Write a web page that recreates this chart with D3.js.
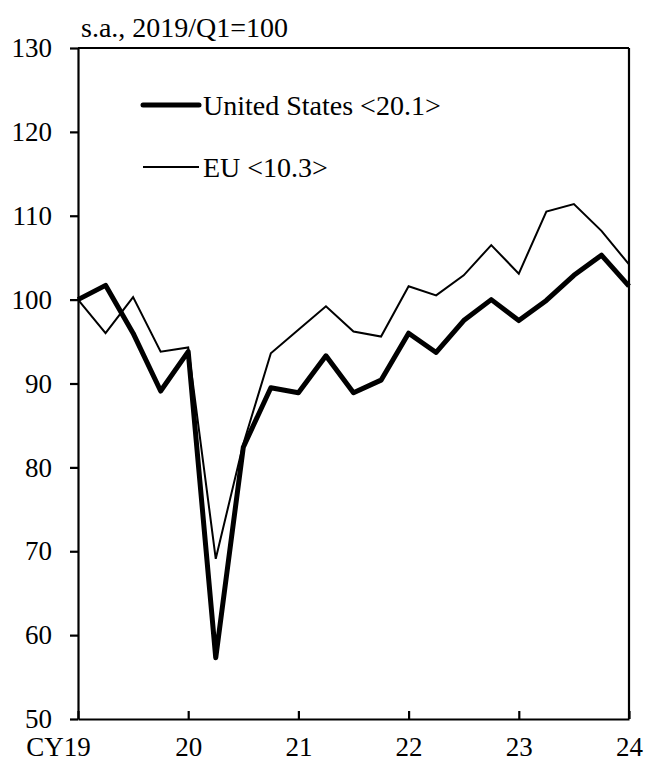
<!DOCTYPE html>
<html><head><meta charset="utf-8">
<script src="https://cdn.jsdelivr.net/npm/d3@7"></script>
</head><body style="margin:0">
<svg id="c" width="647" height="765"></svg>
<script>
const quarters = d3.range(21).map(i => 2019 + i / 4);
const usValues = [100, 101.7, 96.0, 89.1, 93.8, 57.3, 82.4, 89.5, 88.9, 93.3, 88.9, 90.4, 96.0, 93.7, 97.5, 100.0, 97.5, 99.9, 102.9, 105.3, 101.6];
const euValues = [100, 96.0, 100.3, 93.8, 94.3, 69.1, 82.8, 93.6, 96.4, 99.2, 96.2, 95.6, 101.6, 100.5, 102.9, 106.5, 103.1, 110.5, 111.4, 108.2, 104.2];
const yTicks = [50, 60, 70, 80, 90, 100, 110, 120, 130];
const xTicks = [2019, 2020, 2021, 2022, 2023, 2024];
const xTickLabels = ["CY19", "20", "21", "22", "23", "24"];
const seriesNames = ["United States <20.1>", "EU <10.3>"];
const unitLabel = "s.a., 2019/Q1=100";

const famName = ["Liberation", "Serif"].join(" ");
const FONT = `"${famName}"`;
const svg = d3.select("#c");
const L = 78, R = 629, T = 48, B = 719;
const x = d3.scaleLinear().domain([2019, 2024]).range([L, R]);
const y = d3.scaleLinear().domain([50, 130]).range([B, T]);

// y axis
const ya = svg.append("g").attr("transform", `translate(${L},0)`)
  .call(d3.axisLeft(y).tickValues(yTicks).tickSize(8).tickSizeOuter(0).tickPadding(18));
ya.attr("font-family", null).attr("font-size", null);
ya.selectAll("text").style("font-family", FONT).style("font-size", "27px").attr("fill", "#000");
// x axis
const xa = svg.append("g").attr("transform", `translate(0,${B})`)
  .call(d3.axisBottom(x).tickValues(xTicks).tickFormat((d, i) => xTickLabels[i]).tickSize(-8).tickSizeOuter(0).tickPadding(18));
xa.attr("font-family", null).attr("font-size", null);
xa.selectAll("text").style("font-family", FONT).style("font-size", "27px").attr("fill", "#000");
xa.selectAll(".tick").filter(d => d === 2019).select("text").attr("dx", -20);
svg.selectAll(".domain, .tick line").attr("stroke", "#000").attr("stroke-width", 2.2);
// frame: top and right
svg.append("line").attr("x1", L).attr("x2", R).attr("y1", y(130)).attr("y2", y(130)).attr("stroke", "#000").attr("stroke-width", 2.2);
svg.append("line").attr("x1", R).attr("x2", R).attr("y1", y(130)).attr("y2", y(50)).attr("stroke", "#000").attr("stroke-width", 2.2);

const line = d3.line().x((d, i) => x(quarters[i])).y(d => y(d));
svg.append("path").datum(euValues).attr("d", line).attr("fill", "none").attr("stroke", "#000").attr("stroke-width", 2).attr("stroke-linejoin", "miter");
svg.append("path").datum(usValues).attr("d", line).attr("fill", "none").attr("stroke", "#000").attr("stroke-width", 5).attr("stroke-linejoin", "round");

// title
svg.append("text").attr("x", 81).attr("y", 37).style("font-family", FONT).style("font-size", "28px").text(unitLabel);

// legend
const lg = [{w: 5, y: 105}, {w: 2, y: 167}];
seriesNames.forEach((n, i) => {
  svg.append("line").attr("x1", 143).attr("x2", 199).attr("y1", lg[i].y).attr("y2", lg[i].y).attr("stroke", "#000").attr("stroke-width", lg[i].w).attr("stroke-linecap", i === 0 ? "round" : "butt");
  svg.append("text").attr("x", 203).attr("y", lg[i].y + 10).style("font-family", FONT).style("font-size", "28px").text(n);
});
</script>
</body></html>
